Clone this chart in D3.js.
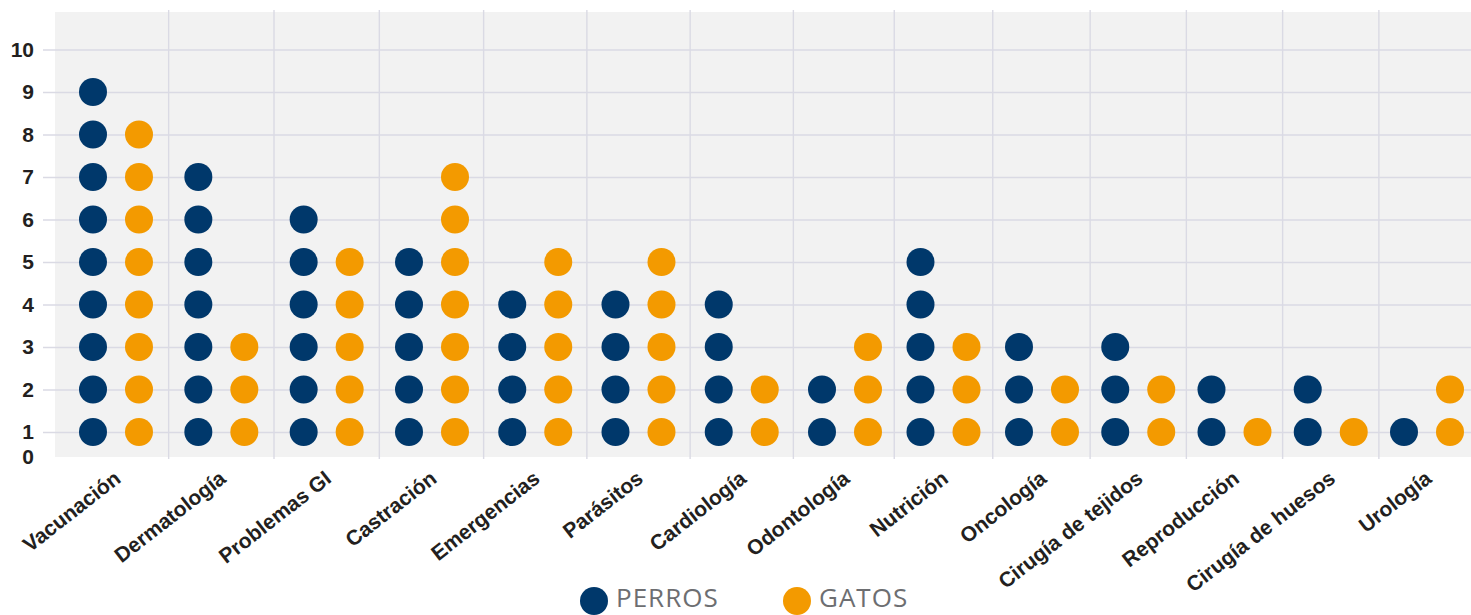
<!DOCTYPE html>
<html>
<head>
<meta charset="utf-8">
<script src="https://cdn.jsdelivr.net/npm/d3@7/dist/d3.min.js"></script>
<style>
  html, body { margin: 0; padding: 0; background: #ffffff; }
  svg { display: block; }
</style>
</head>
<body>
<svg id="chart" width="1471" height="615"></svg>
<script>
// ---- DATA ----
const categories = ["Vacunación", "Dermatología", "Problemas GI", "Castración", "Emergencias",
  "Parásitos", "Cardiología", "Odontología", "Nutrición", "Oncología",
  "Cirugía de tejidos", "Reproducción", "Cirugía de huesos", "Urología"];
const perros = [9, 7, 6, 5, 4, 4, 4, 2, 5, 3, 3, 2, 2, 1];
const gatos  = [8, 3, 5, 7, 5, 5, 2, 3, 3, 2, 2, 1, 1, 2];
const yTicks = [1, 2, 3, 4, 5, 6, 7, 8, 9, 10];
const seriesNames = ["PERROS", "GATOS"];

// ---- LAYOUT ----
const W = 1471, H = 615;
const plot = { left: 55, top: 12, right: 1471, bottom: 457 };
const colors = { PERROS: "#00386b", GATOS: "#f39a00" };
const gridColor = "#dadae4";
const r = 14;
const pairGap = 46;
const labelFont = "'Liberation Sans', Arial, Helvetica, sans-serif";

const svg = d3.select("#chart");

// plot background
svg.append("rect")
  .attr("x", plot.left).attr("y", plot.top)
  .attr("width", plot.right - plot.left).attr("height", plot.bottom - plot.top)
  .attr("fill", "#f2f2f2");

// scales
const y = d3.scaleLinear().domain([1, 10]).range([432, 49.5]);
const x = d3.scaleLinear()
  .domain([0, 3, 7, 9, 13])
  .range([93, 409, 822, 1019, 1404]);

// vertical grid lines between categories
const idx = d3.range(categories.length);
svg.append("g").selectAll("line")
  .data(idx.slice(0, -1))
  .join("line")
  .attr("x1", i => (x(i) + pairGap + x(i + 1)) / 2)
  .attr("x2", i => (x(i) + pairGap + x(i + 1)) / 2)
  .attr("y1", 10).attr("y2", 459)
  .attr("stroke", gridColor).attr("stroke-width", 1.4);

// y axis with horizontal gridlines
const yAxis = d3.axisLeft(y)
  .tickValues(yTicks)
  .tickSize(-(W - 43))
  .tickPadding(9)
  .tickFormat(d3.format("d"));
const gy = svg.append("g").attr("transform", "translate(43,0)").call(yAxis);
gy.select(".domain").remove();
gy.selectAll(".tick line").attr("stroke", gridColor).attr("stroke-width", 1.4);
gy.selectAll(".tick text")
  .attr("fill", "#231f20")
  .style("font-family", labelFont)
  .style("font-weight", "bold")
  .style("font-size", "21px");
// zero label at the bottom of the plot
svg.append("text")
  .attr("x", 34).attr("y", plot.bottom)
  .attr("dy", "0.32em")
  .attr("text-anchor", "end")
  .attr("fill", "#231f20")
  .style("font-family", labelFont)
  .style("font-weight", "bold")
  .style("font-size", "21px")
  .text("0");

// dots
function dots(values, offset, color) {
  const pts = [];
  values.forEach((v, i) => { for (let k = 1; k <= v; k++) pts.push({ i, k }); });
  svg.append("g").selectAll("circle")
    .data(pts)
    .join("circle")
    .attr("cx", d => x(d.i) + offset)
    .attr("cy", d => y(d.k))
    .attr("r", r)
    .attr("fill", color);
}
dots(perros, 0, colors.PERROS);
dots(gatos, pairGap, colors.GATOS);

// x labels
svg.append("g").selectAll("text")
  .data(idx)
  .join("text")
  .attr("transform", i => `translate(${x(i) + pairGap / 2 + 6},481) rotate(-38)`)
  .attr("text-anchor", "end")
  .attr("fill", "#231f20")
  .style("font-family", labelFont)
  .style("font-weight", "bold")
  .style("font-size", "21px")
  .text(i => categories[i]);

// legend
const legendX = d3.scalePoint().domain(seriesNames).range([594, 797]);
const lg = svg.append("g").selectAll("g")
  .data(seriesNames)
  .join("g")
  .attr("transform", d => `translate(${legendX(d)},601)`);
lg.append("circle").attr("r", 14).attr("fill", d => colors[d]);
lg.append("text")
  .attr("x", 22).attr("y", 6)
  .attr("fill", "#6d6e71")
  .style("font-family", "'Open Sans', 'Noto Sans', sans-serif")
  .style("font-size", "26px")
  .style("letter-spacing", "1px")
  .text(d => d);
</script>
</body>
</html>
